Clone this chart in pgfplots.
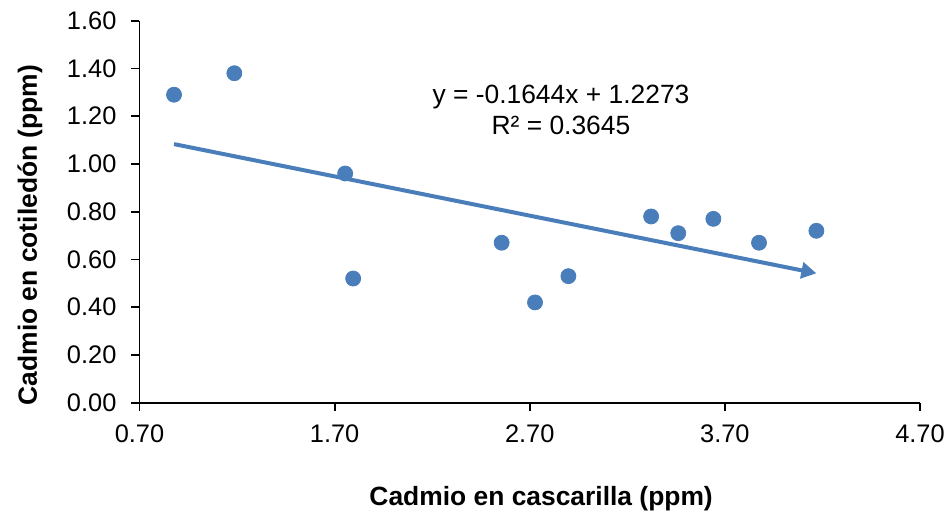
\documentclass[border=0pt]{standalone}
\usepackage{pgfplots}
\pgfplotsset{compat=1.18}
\usepackage{fontspec}
\setmainfont{Liberation Sans}
\usetikzlibrary{arrows.meta}
\definecolor{exblue}{HTML}{4A7EBB}
\pgfplotstableread{
x y
0.877 1.29
1.186 1.38
1.754 0.96
1.795 0.52
2.556 0.67
2.727 0.42
2.898 0.53
3.322 0.78
3.461 0.71
3.641 0.77
3.875 0.67
4.169 0.72
}\datatable
\begin{document}
\begin{tikzpicture}
\begin{axis}[
  scale only axis,
  width=390.25pt, height=191pt,
  xmin=0.7, xmax=4.7, ymin=0, ymax=1.6,
  xtick={0.7,1.7,2.7,3.7,4.7},
  ytick={0,0.2,0.4,0.6,0.8,1.0,1.2,1.4,1.6},
  axis lines*=left,
  tick align=outside,
  major tick length=4pt,
  tick style={black, line width=0.9pt},
  axis line style={black, line width=0.9pt},
  /pgf/number format/.cd, fixed, fixed zerofill, precision=2, assume math mode=true,
  /pgfplots/.cd,
  tick label style={font=\fontsize{12.7}{14}\selectfont},
  yticklabel style={xshift=-4pt},
  xticklabel style={yshift=-3.5pt},
  xlabel={Cadmio en cascarilla (ppm)},
  ylabel={Cadmio en cotiled\'on (ppm)},
  label style={font=\bfseries\fontsize{13.2}{15}\selectfont},
  xlabel style={at={(axis description cs:0.5146,-0.268)}, anchor=base},
  ylabel style={at={(axis description cs:-0.1315,0.439)}, anchor=base},
  clip=false,
]
\addplot[only marks, mark=*, mark size=3.75pt, mark options={draw=exblue, fill=exblue}] table {\datatable};
\addplot[exblue, line width=2pt, -{Triangle[length=7.5pt,width=8pt]}] coordinates {(0.877,1.0831) (4.169,0.5419)};
\node[anchor=base, font=\fontsize{13.2}{15}\selectfont] at (axis cs:2.86,1.254) {y = -0.1644x + 1.2273};
\node[anchor=base, font=\fontsize{13.2}{15}\selectfont] at (axis cs:2.86,1.125) {R² = 0.3645};
\end{axis}
\pgfresetboundingbox
\path ([shift={(-69.75pt,-57.15pt)}]current axis.south west) rectangle ([shift={(15pt,10.35pt)}]current axis.north east);
\end{tikzpicture}
\end{document}
